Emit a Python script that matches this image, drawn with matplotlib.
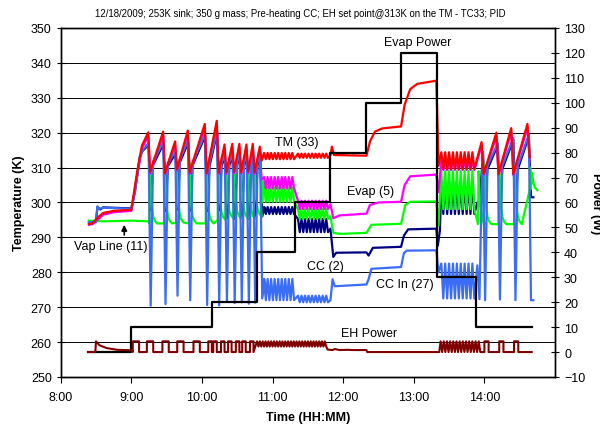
import matplotlib
matplotlib.use("Agg")
import matplotlib.pyplot as plt

plt.rcParams["font.family"] = ["Liberation Sans", "DejaVu Sans"]

TITLE = ("12/18/2009; 253K sink; 350 g mass; Pre-heating CC; "
         "EH set point@313K on the TM - TC33; PID")

# ---------------- data, time in decimal hours ----------------
# Evap heater power steps (W)
evap_step_t = [8.39, 9.00, 10.14, 10.78, 11.32, 11.82, 12.33, 12.82, 13.33, 13.88, 14.67]
evap_step_w = [0, 10, 20, 40, 60, 80, 100, 120, 30, 10, 10]

# EH power (W)
eh_pre_t = [8.39, 8.49, 8.50, 8.55, 8.65, 8.80, 9.01]
eh_pre_w = [0.0, 0.0, 4.3, 2.7, 1.6, 0.9, 0.7]
eh_pulse_on = [9.02, 9.22, 9.44, 9.65, 9.88, 10.09,
               10.16, 10.27, 10.37, 10.48, 10.57, 10.68]
eh_pulse_len = [0.09, 0.09, 0.09, 0.09, 0.09, 0.05,
                0.05, 0.05, 0.05, 0.05, 0.05, 0.05]
eh_fast1 = [10.78, 10.82, 10.86, 10.90, 10.94, 10.98, 11.02, 11.06, 11.10, 11.14,
            11.18, 11.22, 11.26, 11.30, 11.34, 11.38, 11.42, 11.46, 11.50, 11.54,
            11.58, 11.62, 11.66, 11.70, 11.74]
eh_mid_t = [11.76, 11.78, 11.85, 11.88, 11.95, 12.05, 12.15, 12.33, 12.34, 13.36]
eh_mid_w = [2.2, 1.0, 0.8, 1.2, 0.8, 0.9, 0.8, 0.8, 0.0, 0.0]
eh_fast2 = [13.38, 13.425, 13.47, 13.515, 13.56, 13.605, 13.65, 13.695,
            13.74, 13.785, 13.83, 13.875, 13.92]
eh_end_on = [14.00, 14.21, 14.42]
eh_end_len = [0.06, 0.06, 0.06]

# large TM cycles: time of each TM peak, peak and trough temps (K)
big_tc = [9.24, 9.45, 9.62, 9.80, 10.04, 10.21, 10.32, 10.43, 10.53, 10.63, 10.72, 10.82]
red_peak = [320.1, 320.3, 317.5, 320.6, 322.5, 323.4, 316.6, 316.8, 316.8, 316.6, 316.8, 316.0]
red_low = [308.7, 308.4, 309.5, 308.6, 308.4, 308.5, 308.6, 308.8, 308.6, 308.8, 308.6, 312.0]
blue_top = [317.0, 317.3, 314.5, 317.6, 319.5, 320.4, 313.6, 313.8, 313.8, 313.6, 313.8, 313.0]
blue_bot = [270.4, 270.9, 273.3, 272.0, 270.6, 270.5, 271.5, 271.2, 271.4, 271.0, 271.3, 272.5]
blue_rec = [311.7, 311.4, 312.5, 311.6, 311.4, 311.5, 311.6, 311.8, 311.6, 311.8, 311.6, 277.0]
navy_top = [316.5, 316.8, 314.0, 317.1, 319.0, 319.9, 313.1, 313.3, 313.3, 313.1, 313.3, 312.5]
navy_bot = [297.8, 297.6, 297.9, 297.7, 297.5, 297.8, 295.5, 295.3, 295.5, 295.3, 295.5, 296.0]
navy_rec = [310.7, 310.4, 311.5, 310.6, 310.4, 310.5, 310.6, 310.8, 310.6, 310.8, 310.6, 298.5]
green_top = [311.5, 311.5, 311.5, 311.5, 312.0, 312.0, 309.0, 309.0, 309.0, 309.0, 309.0, 306.0]
green_base = [294.0, 294.0, 294.2, 294.0, 294.0, 295.0, 295.5, 295.5, 295.5, 295.5, 296.0, 301.0]
mag_peak = [319.0, 319.2, 316.5, 319.5, 321.4, 322.3, 315.6, 315.8, 315.8, 315.6, 315.8, 315.0]
mag_low = [308.3, 308.0, 309.0, 308.2, 308.0, 308.1, 308.2, 308.4, 308.2, 308.4, 308.2, 306.5]

# small ripples: peak times per power step
ripple_d = [10.88, 10.93, 10.98, 11.03, 11.08, 11.13, 11.18, 11.23, 11.28]
ripple_e = [11.36, 11.41, 11.46, 11.51, 11.56, 11.61, 11.66, 11.71, 11.76]
ripple_g = [13.39, 13.445, 13.50, 13.555, 13.61, 13.665, 13.72, 13.775, 13.83]

# final 10 W cycles
end_tc = [13.96, 14.17, 14.38, 14.61]
red_end_peak = [317.3, 320.0, 321.3, 322.5]
red_end_low = [308.2, 308.2, 308.2, 313.0]
end_dip = [13.90, 13.98, 14.19, 14.41, 14.63]
blue_end_top = [282.0, 314.5, 317.0, 318.5, 319.5]
blue_end_bot = [272.3, 272.0, 272.2, 272.0, 272.0]
blue_end_rec = [305.0, 310.5, 310.5, 310.5, 272.0]
navy_end_top = [300.0, 314.0, 316.5, 318.0, 319.0]
navy_end_bot = [299.0, 299.2, 299.0, 299.0, 301.5]
navy_end_rec = [309.0, 309.5, 309.5, 309.5, 301.5]
green_end_top = [309.0, 311.0, 311.0, 311.0, 310.0]
green_end_base = [293.8, 293.8, 293.8, 293.8, 303.5]

# slow segments (pre-heat and high evap power)
red_pre_t = [8.40, 8.45, 8.52, 8.60, 8.75, 9.00, 9.08, 9.15]
red_pre_v = [293.8, 294.0, 295.6, 297.0, 297.6, 297.9, 308.5, 316.3]
red_mid_t = [11.82, 11.84, 11.87, 12.33, 12.38, 12.45, 12.55, 12.82, 12.87, 12.95, 13.05, 13.32, 13.35]
red_mid_v = [313.5, 316.0, 313.6, 313.4, 317.5, 320.3, 321.2, 321.8, 328.0, 332.5, 334.0, 334.9, 310.5]
mag_pre_t = [8.40, 8.45, 8.52, 8.60, 8.75, 9.00, 9.08, 9.15]
mag_pre_v = [293.6, 293.8, 295.0, 296.5, 297.2, 297.6, 307.5, 315.5]
mag_mid_t = [11.82, 11.86, 11.95, 12.33, 12.38, 12.50, 12.82, 12.87, 12.95, 13.32, 13.35]
mag_mid_v = [299.5, 295.5, 296.3, 296.8, 299.3, 300.0, 300.2, 305.0, 307.5, 308.0, 303.0]
green_pre_t = [8.40, 8.60, 9.00, 9.24]
green_pre_v = [294.8, 294.6, 294.8, 294.6]
green_mid_t = [11.82, 11.86, 11.95, 12.33, 12.40, 12.82, 12.88, 12.95, 13.32, 13.35]
green_mid_v = [296.0, 291.3, 291.0, 291.3, 293.6, 293.9, 299.3, 300.2, 300.3, 293.4]
navy_pre_t = [8.40, 8.50, 8.52, 8.56, 8.60, 9.00, 9.05, 9.12, 9.16]
navy_pre_v = [294.3, 294.5, 298.7, 298.0, 298.6, 298.3, 303.0, 313.0, 314.8]
navy_mid_t = [11.82, 11.86, 11.90, 12.33, 12.36, 12.42, 12.82, 12.86, 12.92, 13.32, 13.34, 13.37]
navy_mid_v = [292.5, 284.4, 285.6, 285.7, 284.8, 287.0, 287.3, 290.5, 292.3, 292.5, 287.6, 292.0]
blue_pre_t = [8.40, 8.50, 8.52, 8.55, 8.60, 9.00, 9.05, 9.12, 9.16]
blue_pre_v = [294.3, 294.5, 298.9, 298.2, 298.5, 298.2, 303.0, 313.0, 315.0]
blue_mid_t = [11.82, 11.85, 11.88, 12.33, 12.36, 12.40, 12.82, 12.86, 12.90, 13.32, 13.35]
blue_mid_v = [272.0, 278.0, 276.0, 276.5, 278.0, 281.0, 281.5, 285.5, 286.2, 286.3, 280.0]


# ---------------- path helpers ----------------
def saw(tc, hi, lo, fall=0.025):
    t, v = [], []
    for c, h, l in zip(tc, hi, lo):
        t += [c, c + fall]
        v += [h, l]
    return t, v


def dips(tc, top, bot, rec, w=0.03):
    t, v = [], []
    for c, a, b, r in zip(tc, top, bot, rec):
        t += [c, c + w, c + 2.1 * w]
        v += [a, b, r]
    return t, v


def spikes(tc, top, base):
    # sharp rise followed by a decay back to the base level
    t, v = [], []
    for c, h, b in zip(tc, top, base):
        t += [c + 0.01, c + 0.018, c + 0.03, c + 0.045, c + 0.065, c + 0.09, c + 0.12]
        v += [b, h, h - 6, b + 5, b + 2, b + 0.7, b]
    return t, v


def zigzag(peaks, hi, lo, half):
    t, v = [], []
    for p in peaks:
        t += [p, p + half]
        v += [hi, lo]
    return t, v


def pulses(on, width, hi):
    t, v = [], []
    for s, w in zip(on, width):
        t += [s, s, s + w, s + w]
        v += [0, hi, hi, 0]
    return t, v


def join(*parts):
    t, v = [], []
    for a, b in parts:
        t += list(a)
        v += list(b)
    return t, v


dc = [c + 0.004 for c in big_tc]

red = join((red_pre_t, red_pre_v), saw(big_tc, red_peak, red_low),
           zigzag(ripple_d, 314.2, 312.4, 0.025), zigzag(ripple_e, 314.0, 312.8, 0.025),
           (red_mid_t, red_mid_v), zigzag(ripple_g, 314.4, 309.6, 0.028),
           saw(end_tc, red_end_peak, red_end_low, 0.03))
mag = join((mag_pre_t, mag_pre_v), saw(big_tc, mag_peak, mag_low),
           zigzag(ripple_d, 307.3, 304.0, 0.025), zigzag(ripple_e, 300.5, 298.1, 0.025),
           (mag_mid_t, mag_mid_v), zigzag(ripple_g, 312.0, 309.3, 0.028),
           saw(end_tc, [p - 1.0 for p in red_end_peak], [307.8, 307.8, 307.8, 312.0], 0.03))
green = join((green_pre_t, green_pre_v), spikes(dc, green_top, green_base),
             zigzag(ripple_d, 304.3, 300.2, 0.025), zigzag(ripple_e, 298.1, 295.3, 0.025),
             (green_mid_t, green_mid_v), zigzag(ripple_g, 309.0, 298.1, 0.028),
             spikes(end_dip, green_end_top, green_end_base))
navy = join((navy_pre_t, navy_pre_v), dips(dc, navy_top, navy_bot, navy_rec),
            zigzag(ripple_d, 298.7, 296.7, 0.025), zigzag(ripple_e, 295.3, 291.5, 0.025),
            (navy_mid_t, navy_mid_v), zigzag(ripple_g, 306.0, 296.7, 0.028),
            dips(end_dip, navy_end_top, navy_end_bot, navy_end_rec))
blue = join((blue_pre_t, blue_pre_v), dips(dc, blue_top, blue_bot, blue_rec),
            zigzag(ripple_d, 278.1, 272.0, 0.025), zigzag(ripple_e, 273.3, 271.4, 0.025),
            (blue_mid_t, blue_mid_v), zigzag(ripple_g, 282.5, 272.5, 0.028),
            dips(end_dip, blue_end_top, blue_end_bot, blue_end_rec))
eh = join((eh_pre_t, eh_pre_w), pulses(eh_pulse_on, eh_pulse_len, 4.3),
          zigzag(eh_fast1, 4.3, 2.2, 0.02), (eh_mid_t, eh_mid_w),
          zigzag(eh_fast2, 4.3, 0.0, 0.022), pulses(eh_end_on, eh_end_len, 4.3),
          ([14.67], [0.0]))

# ---------------- figure ----------------
fig = plt.figure(figsize=(6, 4.27), dpi=100)
ax = fig.add_axes([0.1012, 0.1148, 0.8238, 0.8173])
ax2 = ax.twinx()

ax.set_xlim(8, 15)
ax.set_ylim(250, 350)
ax.set_yticks(range(250, 351, 10))
ax.set_xticks(range(8, 15))
ax.set_xticklabels([f"{h}:00" for h in range(8, 15)])
ax.grid(axis="y", color="black", lw=0.7)
ax.set_axisbelow(True)

lw = 1.6
ax.plot(*navy, color="#000080", lw=lw, zorder=3)
ax.plot(*green, color="#00ff00", lw=lw, zorder=4)
ax.plot(*mag, color="#ff00ff", lw=lw, zorder=5)
ax.plot(*blue, color="#3b6ef5", lw=lw, zorder=6)
ax.plot(*red, color="#ff0000", lw=lw, zorder=7)

ax2.set_ylim(-10, 130)
ax2.set_yticks(range(-10, 131, 10))
ax2.plot(evap_step_t, evap_step_w, drawstyle="steps-post", color="black", lw=1.6)
ax2.plot(*eh, color="#800000", lw=1.5)

for a in (ax, ax2):
    a.tick_params(direction="inout", length=6, width=0.8, labelsize=9)
    for s in a.spines.values():
        s.set_linewidth(1.0)
ax.tick_params(axis="x", direction="out", length=4, pad=6)

ax.set_ylabel("Temperature (K)", fontsize=9, fontweight="bold", labelpad=4)
ax.set_xlabel("Time (HH:MM)", fontsize=9, fontweight="bold", labelpad=6)
ax2.set_ylabel("Power (W)", fontsize=9, fontweight="bold", rotation=270, labelpad=12)
fig.text(0.5, 0.968, TITLE, ha="center", va="center", fontsize=6.9)

txt = dict(fontsize=9, ha="center", va="center", zorder=10)
ax.text(13.05, 346.0, "Evap Power", **txt)
ax.text(11.34, 317.3, "TM (33)", **txt)
ax.text(12.39, 303.4, "Evap (5)", **txt)
ax.text(11.75, 281.9, "CC (2)", **txt)
ax.text(12.87, 276.6, "CC In (27)", **txt)
ax.text(12.37, 262.5, "EH Power", **txt)
ax.text(8.71, 287.6, "Vap Line (11)", **txt)
ax.annotate("", xy=(8.90, 294.4), xytext=(8.90, 289.9),
            arrowprops=dict(arrowstyle="-|>", color="black", lw=1.2, mutation_scale=8),
            zorder=10)

fig.savefig("out.png", dpi=100)
